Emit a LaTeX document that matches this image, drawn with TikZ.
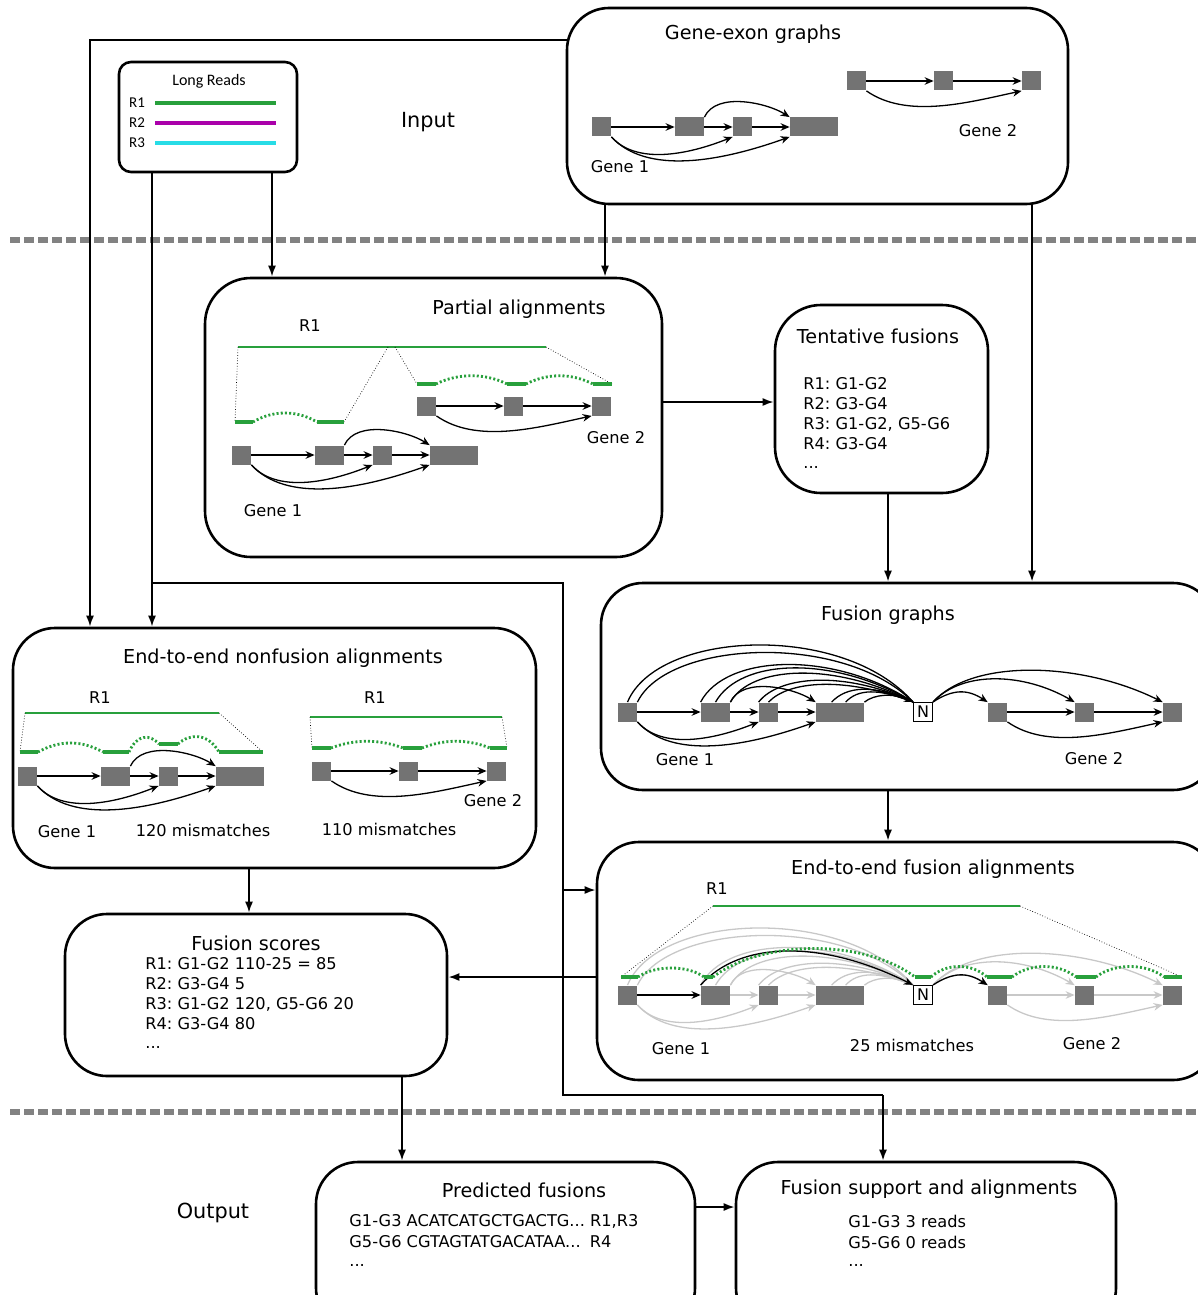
\documentclass[tikz,border=0pt]{standalone}
\usepackage{fontspec}
\setmainfont{DejaVu Sans}
\newfontfamily\lrfont{Carlito}
\usepackage{tikz}
\usetikzlibrary{arrows.meta}
\frenchspacing

\definecolor{readgreen}{RGB}{40,160,60}
\definecolor{readpurple}{RGB}{170,0,170}
\definecolor{readcyan}{RGB}{40,220,230}
\definecolor{exongray}{RGB}{115,115,115}
\definecolor{fadegray}{RGB}{200,200,200}
\definecolor{sepgray}{RGB}{130,130,130}

\newcommand{\titlesize}{\fontsize{9.6}{11}\selectfont}
\newcommand{\bodysize}{\fontsize{8.1}{10}\selectfont}

% gene 1: four exons, #1 prefix, (#2,#3) left end, #4 edge style, #5 style of first edge
\newcommand{\geneone}[5]{%
	\begin{scope}[shift={(#2,#3)}]
		\node[exon] (#1a) at (9.5,0) {};
		\node[exon, minimum width=14.5pt] (#1b) at (97.5,0) {};
		\node[exon] (#1c) at (150.5,0) {};
		\node[exon, minimum width=24pt] (#1d) at (222,0) {};
		\draw[#5] (#1a) -- (#1b);
		\draw[#4] (#1b) -- (#1c);
		\draw[#4] (#1c) -- (#1d);
		\draw[#4] (#1b.north east) .. controls +(12,-26) and +(-22,-14) .. (#1d.north west);
		\draw[#4] (#1a.south east) .. controls +(25,28) and +(-45,18) .. (#1c.south west);
		\draw[#4] (#1a.south east) .. controls +(35,38) and +(-70,25) .. (#1d.south west);
	\end{scope}}

% gene 2: three exons
\newcommand{\genetwo}[4]{%
	\begin{scope}[shift={(#2,#3)}]
		\node[exon] (#1a) at (9.5,0) {};
		\node[exon] (#1b) at (96.5,0) {};
		\node[exon] (#1c) at (184.5,0) {};
		\draw[#4] (#1a) -- (#1b);
		\draw[#4] (#1b) -- (#1c);
		\draw[#4] (#1a.south east) .. controls +(40,28) and +(-55,12) .. (#1c.south west);
	\end{scope}}

% gene 1 -- N -- gene 2
\newcommand{\fusiongraph}[4]{%
	\geneone{#1}{618}{#2}{#3}{#4}
	\node[nbox] (#1N) at (923,#2) {N};
	\genetwo{#1g}{988}{#2}{#3}
	\draw[#3,-] (#1a.north) .. controls +(30,-72) and +(-70,-80) .. (#1N.north west);
	\draw[#3,-] (#1a.north east) .. controls +(30,-62) and +(-70,-70) .. (#1N.north west);
	\draw[#3,-] (#1b.north west) .. controls +(25,-48) and +(-80,-52) .. (#1N.north west);
	\draw[#3,-] (#1b.north) .. controls +(25,-44) and +(-80,-47) .. (#1N.north west);
	\draw[#3,-] (#1b.north east) .. controls +(20,-36) and +(-80,-41) .. (#1N.north west);
	\draw[#3,-] (#1c.north west) .. controls +(20,-26) and +(-70,-32) .. (#1N.north west);
	\draw[#3,-] (#1c.north) .. controls +(20,-21) and +(-70,-26) .. (#1N.north west);
	\draw[#3,-] ([xshift=8pt]#1d.north west) .. controls +(15,-16) and +(-40,-18) .. (#1N.north west);
	\draw[#3,-] ([xshift=15pt]#1d.north west) .. controls +(12,-13) and +(-35,-14) .. (#1N.north west);
	\draw[#3] (#1d.north east) .. controls +(10,-8) and +(-20,-9) .. (#1N.north west);
	\draw[#3] (#1N.north east) .. controls +(20,-13) and +(-20,-13) .. (#1ga.north west);
	\draw[#3] (#1N.north east) .. controls +(30,-32) and +(-50,-29) .. (#1gb.north west);
	\draw[#3] (#1N.north east) .. controls +(40,-44) and +(-80,-40) .. (#1gc.north west);}

\begin{document}
\begin{tikzpicture}[x=0.5pt, y=-0.5pt,
		stage/.style={draw, line width=1.3pt, rounded corners=21pt, inner sep=0pt},
		flow/.style={line width=0.9pt, -{Latex[length=5.5pt,width=4pt]}},
		exon/.style={fill=exongray, inner sep=0pt, minimum width=9.5pt, minimum height=9.5pt},
		exedge/.style={line width=0.65pt, -{Stealth[length=4.5pt,width=3.8pt]}},
		fadeedge/.style={exedge, draw=fadegray},
		nbox/.style={draw, fill=white, line width=0.6pt, inner sep=0pt, minimum size=9.5pt, font=\fontsize{8}{9}\selectfont},
		rd/.style={draw=readgreen, line width=1.3pt},
		aln/.style={draw=readgreen, line width=1.8pt},
		alngap/.style={draw=readgreen, line width=1.4pt, dash pattern=on 1pt off 1.1pt},
		lnk/.style={line width=0.35pt, densely dotted},
		sepline/.style={draw=sepgray, line width=2.6pt, dash pattern=on 5pt off 2pt},
		boxtitle/.style={font=\titlesize},
		gene/.style={font=\bodysize},
		body/.style={font=\bodysize, anchor=west, inner xsep=0pt, text height=6pt, text depth=1.5pt}]
	%\draw[help lines] (0,0) grid (1198,1295);
	\useasboundingbox (0,0) rectangle (1198,1295);

	\draw[sepline] (10,240) -- (1198,240);
	\draw[sepline] (10,1112) -- (1198,1112);
	\node[font=\fontsize{10.4}{12}\selectfont] (input) at (428,122) {Input};
	\node[font=\fontsize{10.4}{12}\selectfont] (output) at (213,1213) {Output};

	% boxes
	\node[stage, rounded corners=6pt, minimum width=89pt, minimum height=55pt] (lr) at (208,117) {};
	\node[stage, minimum width=250.5pt, minimum height=98pt] (gex) at (817.5,106) {};
	\node[stage, rounded corners=23pt, minimum width=228.5pt, minimum height=139.5pt] (partial) at (433.5,417.5) {};
	\node[stage, rounded corners=23pt, minimum width=106.5pt, minimum height=94pt] (tent) at (881.5,399) {};
	\node[stage, minimum width=307pt, minimum height=103.5pt] (fgraph) at (908,686.5) {};
	\node[stage, minimum width=261.5pt, minimum height=120pt] (nonfus) at (274.5,748) {};
	\node[stage, minimum width=309pt, minimum height=119pt] (e2e) at (906,961) {};
	\node[stage, minimum width=191pt, minimum height=81pt] (scores) at (256,995) {};
	\node[stage, minimum width=189.5pt, minimum height=84pt] (pred) at (505.5,1246) {};
	\node[stage, minimum width=190pt, minimum height=84pt] (supp) at (926,1246) {};

	% long reads
	\node[font=\lrfont\fontsize{8}{9}\selectfont] (lrtitle) at (209,81) {Long Reads};
	\foreach \k/\col/\yy in {1/readgreen/103, 2/readpurple/123, 3/readcyan/143} {
		\node[font=\lrfont\fontsize{7.5}{9}\selectfont] (lrr\k) at (137,\yy) {R\k};
		\draw[draw=\col, line width=1.7pt] (155,\yy) -- (276,\yy);
	}

	% gene-exon graphs
	\node[boxtitle] (gextitle) at (753,34) {Gene-exon graphs};
	\geneone{gxa}{592}{127}{exedge}{exedge}
	\genetwo{gxb}{847}{81}{exedge}
	\node[gene] (gxl1) at (620,167) {Gene 1};
	\node[gene] (gxl2) at (988,131) {Gene 2};

	% partial alignments
	\node[boxtitle] (pttitle) at (519,309) {Partial alignments};
	\node[gene] (ptr1) at (310,326) {R1};
	\draw[rd] (238,347) -- (546,347);
	\draw[lnk] (238,347) -- (235,422);
	\draw[lnk] (388,347) -- (344,422);
	\draw[lnk] (395,347) -- (417,384);
	\draw[lnk] (546,347) -- (612,384);
	\draw[aln] (235,422) -- (253,422);
	\draw[alngap] (253,422) .. controls (273,410) and (297,410) .. (317,422);
	\draw[aln] (317,422) -- (344,422);
	\draw[aln] (417,384) -- (436,384);
	\draw[alngap] (436,384) .. controls (458,373) and (485,373) .. (507,384);
	\draw[aln] (507,384) -- (526,384);
	\draw[alngap] (526,384) .. controls (548,373) and (571,373) .. (593,384);
	\draw[aln] (593,384) -- (612,384);
	\geneone{pta}{232}{455}{exedge}{exedge}
	\genetwo{ptb}{417}{406}{exedge}
	\node[gene] (ptl1) at (273,511) {Gene 1};
	\node[gene] (ptl2) at (616,438) {Gene 2};

	% tentative fusions
	\node[boxtitle] (tftitle) at (878,336) {Tentative fusions};
	\node[body] (tf1) at (803,385) {R1: G1-G2};
	\node[body] (tf2) at (803,405) {R2: G3-G4};
	\node[body] (tf3) at (803,425) {R3: G1-G2, G5-G6};
	\node[body] (tf4) at (803,445) {R4: G3-G4};
	\node[body] (tf5) at (803,464) {...};

	% fusion graphs
	\node[boxtitle] (fgtitle) at (888,615) {Fusion graphs};
	\fusiongraph{fg}{712}{exedge}{exedge}
	\node[gene] (fgl1) at (685,760) {Gene 1};
	\node[gene] (fgl2) at (1094,759) {Gene 2};

	% end-to-end nonfusion alignments
	\node[boxtitle] (nftitle) at (283,658) {End-to-end nonfusion alignments};
	\node[gene] (nfr1) at (100,698) {R1};
	\node[gene] (nfr2) at (375,698) {R1};
	\draw[rd] (25,713) -- (219,713);
	\draw[lnk] (25,713) -- (20,752);
	\draw[lnk] (219,713) -- (263,752);
	\draw[aln] (20,752) -- (38,752);
	\draw[alngap] (38,752) .. controls (60,740) and (81,740) .. (103,752);
	\draw[aln] (103,752) -- (129,752);
	\draw[alngap] (129,752) .. controls (137,734) and (150,734) .. (159,744);
	\draw[aln] (159,744) -- (178,744);
	\draw[alngap] (178,744) .. controls (190,733) and (208,733) .. (219,752);
	\draw[aln] (219,752) -- (263,752);
	\draw[rd] (310,717) -- (502,717);
	\draw[lnk] (310,717) -- (312,748);
	\draw[lnk] (502,717) -- (507,748);
	\draw[aln] (312,748) -- (331,748);
	\draw[alngap] (331,748) .. controls (355,739) and (379,739) .. (403,748);
	\draw[aln] (403,748) -- (422,748);
	\draw[alngap] (422,748) .. controls (445,739) and (467,739) .. (490,748);
	\draw[aln] (490,748) -- (507,748);
	\geneone{nfa}{18}{776}{exedge}{exedge}
	\genetwo{nfb}{312}{771}{exedge}
	\node[gene] (nfl1) at (67,832) {Gene 1};
	\node[gene] (nfm1) at (203,830) {120 mismatches};
	\node[gene] (nfm2) at (389,829) {110 mismatches};
	\node[gene] (nfl2) at (493,801) {Gene 2};

	% end-to-end fusion alignments
	\node[boxtitle] (eftitle) at (933,869) {End-to-end fusion alignments};
	\node[gene] (efr1) at (717,889) {R1};
	\draw[rd] (713,906) -- (1020,906);
	\draw[lnk] (713,906) -- (621,977);
	\draw[lnk] (1020,906) -- (1182,977);
	\fusiongraph{ef}{995}{fadeedge}{exedge}
	\draw[exedge] (efb.north west) .. controls +(40,-45) and +(-90,-45) .. (efN.north west);
	\draw[exedge] (efN.north east) .. controls +(20,-13) and +(-20,-13) .. (efga.north west);
	\foreach \xa/\xb in {621/638, 704/713, 915/931, 987/1012, 1076/1096, 1164/1182}
		\draw[aln] (\xa,977) -- (\xb,977);
	\draw[alngap] (638,977) .. controls (655,965) and (688,965) .. (704,977);
	\draw[alngap] (713,977) .. controls (763,939) and (865,939) .. (915,977);
	\draw[alngap] (931,977) .. controls (946,963) and (972,963) .. (987,977);
	\draw[alngap] (1012,977) .. controls (1030,963) and (1058,963) .. (1076,977);
	\draw[alngap] (1096,977) .. controls (1114,963) and (1146,963) .. (1164,977);
	\node[gene] (efl1) at (681,1049) {Gene 1};
	\node[gene] (efm) at (912,1045) {25 mismatches};
	\node[gene] (efl2) at (1092,1044) {Gene 2};

	% fusion scores
	\node[boxtitle] (fstitle) at (256,943) {Fusion scores};
	\node[body] (fs1) at (145,965) {R1: G1-G2 110-25 = 85};
	\node[body] (fs2) at (145,985) {R2: G3-G4 5};
	\node[body] (fs3) at (145,1005) {R3: G1-G2 120, G5-G6 20};
	\node[body] (fs4) at (145,1025) {R4: G3-G4 80};
	\node[body] (fs5) at (145,1044) {...};

	% output
	\node[boxtitle] (pftitle) at (524,1190) {Predicted fusions};
	\node[body] (pf1) at (349,1222) {G1-G3 ACATCATGCTGACTG... R1,R3};
	\node[body] (pf2) at (349,1243) {G5-G6 CGTAGTATGACATAA...\kern2pt\ R4};
	\node[body] (pf3) at (349,1262) {...};
	\node[boxtitle] (sptitle) at (929,1189) {Fusion support and alignments};
	\node[body] (sp1) at (848,1223) {G1-G3 3 reads};
	\node[body] (sp2) at (848,1244) {G5-G6 0 reads};
	\node[body] (sp3) at (848,1262) {...};

	% connectors
	\coordinate (lrL) at (152,172);
	\coordinate (lrR) at (272,172);
	\coordinate (gexL) at (605,204);
	\coordinate (gexR) at (1032,204);
	\coordinate (gexW) at (567,40);
	\coordinate (bendA) at (90,40);
	\coordinate (split) at (152,583);
	\coordinate (bendB) at (563,583);
	\coordinate (bendC) at (563,1095);
	\coordinate (bendD) at (883,1095);
	\coordinate (tap) at (563,890);
	\coordinate (ptOut) at (662,402);
	\coordinate (tfOut) at (888,493);
	\coordinate (fgOut) at (888,790);
	\coordinate (nfOut) at (249,868);
	\coordinate (efOut) at (597,977);
	\coordinate (fsOut) at (402,1076);
	\coordinate (pfOut) at (695,1207);

	\draw[flow] (lrR) -- (lrR |- partial.north);
	\draw[flow] (gexL) -- (gexL |- partial.north);
	\draw[flow] (gexR) -- (gexR |- fgraph.north);
	\draw[flow] (gexW) -- (bendA) -- (bendA |- nonfus.north);
	\draw[flow] (lrL) -- (lrL |- nonfus.north);
	\draw[line width=0.9pt] (split) -- (bendB) -- (bendC) -- (bendD);
	\draw[flow] (bendD) -- (bendD |- supp.north);
	\draw[flow] (tap) -- (tap -| e2e.west);
	\draw[flow] (ptOut) -- (ptOut -| tent.west);
	\draw[flow] (tfOut) -- (tfOut |- fgraph.north);
	\draw[flow] (fgOut) -- (fgOut |- e2e.north);
	\draw[flow] (nfOut) -- (nfOut |- scores.north);
	\draw[flow] (efOut) -- (efOut -| scores.east);
	\draw[flow] (fsOut) -- (fsOut |- pred.north);
	\draw[flow] (pfOut) -- (pfOut -| supp.west);
\end{tikzpicture}
\end{document}
